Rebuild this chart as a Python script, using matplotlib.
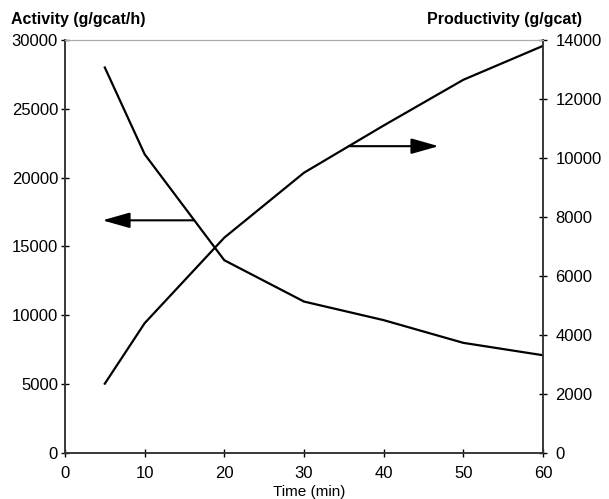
import matplotlib
matplotlib.use("Agg")
from matplotlib import pyplot as plt
import numpy as np

plt.rcParams['font.family'] = ['Liberation Sans', 'DejaVu Sans']

time_min = [5, 10, 20, 30, 40, 50, 60]
activity = [28000, 21700, 14000, 11000, 9650, 8000, 7100]
productivity = [2350, 4400, 7300, 9500, 11100, 12650, 13800]

x_ticks = [0, 10, 20, 30, 40, 50, 60]
left_ticks = [0, 5000, 10000, 15000, 20000, 25000, 30000]
right_ticks = [0, 2000, 4000, 6000, 8000, 10000, 12000, 14000]

fig = plt.figure(figsize=(6.09, 4.99), dpi=100)
ax = fig.add_axes([0.1067, 0.0922, 0.7849, 0.8277])
ax2 = ax.twinx()

ax.plot(time_min, activity, color='black', lw=1.6)
ax2.plot(time_min, productivity, color='black', lw=1.6)

ax.set_xlim(0, 60)
ax.set_ylim(0, 30000)
ax2.set_ylim(0, 14000)
ax.set_xticks(x_ticks)
ax.set_yticks(left_ticks)
ax2.set_yticks(right_ticks)

for a in (ax, ax2):
    for s in a.spines.values():
        s.set_color('#333333')
        s.set_linewidth(1.1)
    a.spines['top'].set_color('#aaaaaa')
    a.spines['top'].set_linewidth(0.8)

ax.tick_params(axis='x', direction='inout', length=6, width=1, pad=6.5, labelsize=12)
ax.tick_params(axis='y', direction='inout', length=6, width=1, pad=2, labelsize=12)
ax2.tick_params(axis='y', direction='inout', length=6, width=1, pad=6, labelsize=12)

# arrows pointing to the axis each curve belongs to
arrow_y_left = 16900
tail_left = np.interp(arrow_y_left, activity[::-1], time_min[::-1])
ax.annotate('', xy=(4.7, arrow_y_left), xytext=(tail_left, arrow_y_left),
            arrowprops=dict(arrowstyle='-|>,head_length=1.2,head_width=0.34',
                            mutation_scale=14, lw=1.5, color='black',
                            shrinkA=0, shrinkB=0))

arrow_y_right = 10400
tail_right = np.interp(arrow_y_right, productivity, time_min)
ax2.annotate('', xy=(46.9, arrow_y_right), xytext=(tail_right, arrow_y_right),
             arrowprops=dict(arrowstyle='-|>,head_length=1.2,head_width=0.34',
                             mutation_scale=14, lw=1.5, color='black',
                             shrinkA=0, shrinkB=0))

fig.text(0.018, 0.96, 'Activity (g/gcat/h)', fontsize=11.5, fontweight='bold',
         ha='left', va='center')
fig.text(0.956, 0.96, 'Productivity (g/gcat)', fontsize=11.5, fontweight='bold',
         ha='right', va='center')
fig.text(0.508, 0.001, 'Time (min)', fontsize=11, ha='center', va='bottom')

fig.savefig('out.png', dpi=100)
